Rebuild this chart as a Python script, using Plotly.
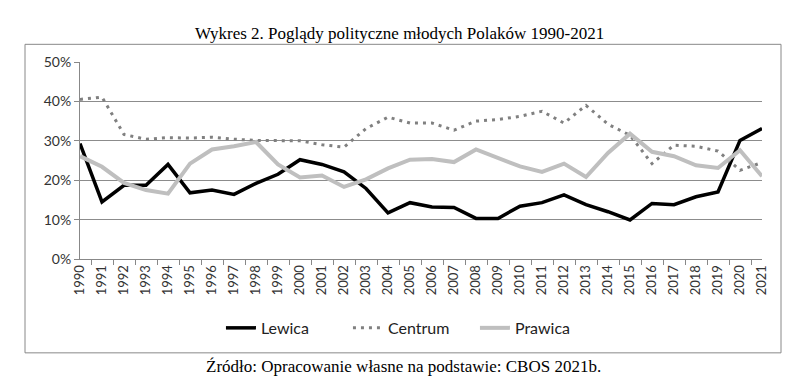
import plotly.graph_objects as go

years = [str(y) for y in range(1990, 2022)]
lewica = [29.3, 14.5, 18.7, 18.7, 24.0, 16.8, 17.5, 16.4, 19.2, 21.5, 25.2, 24.0,
          22.1, 17.9, 11.7, 14.3, 13.2, 13.1, 10.3, 10.3, 13.4, 14.3, 16.3, 13.8,
          12.0, 9.9, 14.1, 13.8, 15.8, 17.0, 30.1, 33.1]
centrum = [40.5, 41.1, 31.6, 30.4, 30.8, 30.7, 30.9, 30.4, 30.1, 30.1, 30.0, 29.0,
           28.4, 33.1, 36.0, 34.5, 34.5, 32.7, 35.0, 35.4, 36.2, 37.5, 34.5, 39.0,
           34.2, 31.4, 24.2, 28.9, 28.6, 27.4, 22.5, 24.5]
prawica = [26.1, 23.4, 19.3, 17.5, 16.6, 24.2, 27.8, 28.6, 29.7, 24.0, 20.7, 21.2,
           18.3, 20.2, 23.0, 25.2, 25.4, 24.6, 27.8, 25.7, 23.5, 22.1, 24.2, 20.8,
           26.9, 31.8, 27.2, 26.1, 23.8, 23.1, 27.6, 21.0]
y_ticks = [0, 10, 20, 30, 40, 50]
y_labels = [f"{v}%" for v in y_ticks]

title_text = "Wykres 2. Poglądy polityczne młodych Polaków 1990-2021"
source_text = "Źródło: Opracowanie własne na podstawie: CBOS 2021b."

fig = go.Figure()
fig.add_trace(go.Scatter(x=years, y=lewica, name="Lewica", mode="lines",
                         line=dict(color="#000000", width=3.5)))
fig.add_trace(go.Scatter(x=years, y=centrum, name="Centrum", mode="lines",
                         line=dict(color="#808080", width=3, dash="3px,5px")))
fig.add_trace(go.Scatter(x=years, y=prawica, name="Prawica", mode="lines",
                         line=dict(color="#bfbfbf", width=4)))

fig.update_layout(
    width=798, height=376,
    margin=dict(l=72, r=44, t=54, b=125),
    paper_bgcolor="white", plot_bgcolor="white",
    font=dict(family="Lato, Liberation Sans, sans-serif", color="#404040"),
    showlegend=True,
    legend=dict(orientation="h", x=0.486, xanchor="center", y=-0.35, yanchor="middle",
                font=dict(size=16, color="#222"), tracegroupgap=0,
                entrywidth=82, entrywidthmode="pixels",
                bgcolor="rgba(0,0,0,0)"),
    xaxis=dict(type="category", showgrid=False, showline=True, linecolor="#888",
               linewidth=1, ticks="outside", tickson="boundaries", ticklen=5,
               tickcolor="#888", tickangle=-90, tickfont=dict(size=13, color="#333"),
               fixedrange=True),
    yaxis=dict(range=[0, 50], tickvals=y_ticks, ticktext=y_labels, showgrid=True,
               gridcolor="#8c8c8c", gridwidth=1, showline=True, linecolor="#888",
               ticks="outside", ticklen=5, tickcolor="#888",
               tickfont=dict(size=14, color="#333"), zeroline=False, fixedrange=True),
)

fig.add_shape(type="rect", xref="paper", yref="paper",
              x0=(17 - 72) / 682, x1=(773 - 72) / 682,
              y0=(259 - 353) / 197.3, y1=(259 - 44) / 197.3,
              line=dict(color="#888", width=1), fillcolor="rgba(0,0,0,0)", layer="below")

fig.add_annotation(text=title_text, xref="paper", yref="paper",
                   x=(391 - 72) / 682, y=(259 - 33) / 197.3, showarrow=False,
                   xanchor="center", yanchor="middle",
                   font=dict(family="Liberation Serif, Times New Roman, serif", size=17, color="#000"))
fig.add_annotation(text=source_text, xref="paper", yref="paper",
                   x=(395 - 72) / 682, y=(259 - 367) / 197.3, showarrow=False,
                   xanchor="center", yanchor="middle",
                   font=dict(family="Liberation Serif, Times New Roman, serif", size=17, color="#000"))

fig.write_html("out.html")
